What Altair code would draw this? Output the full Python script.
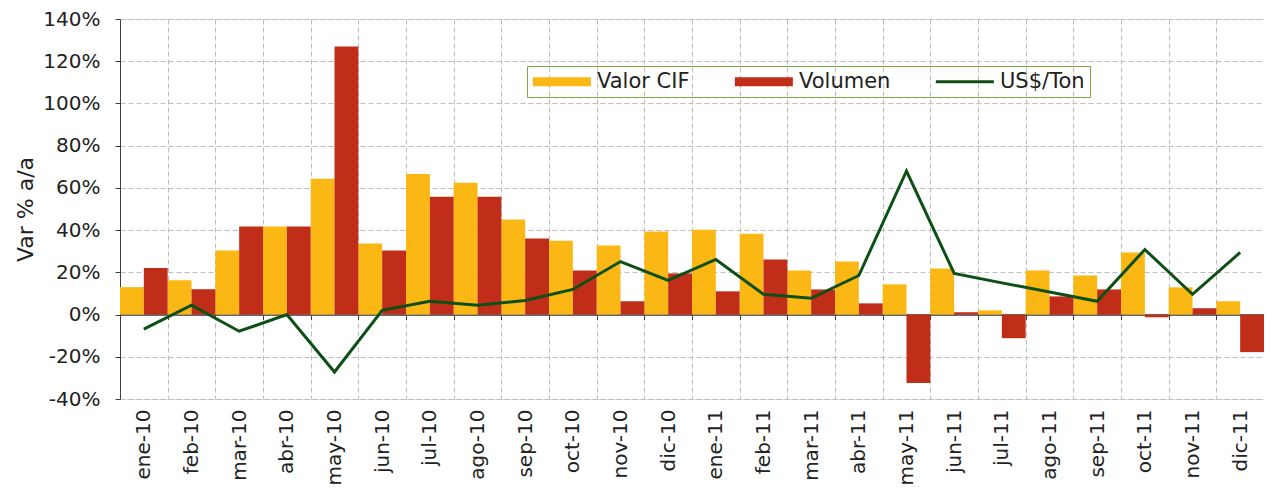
import altair as alt
import pandas as pd

months = ["ene-10", "feb-10", "mar-10", "abr-10", "may-10", "jun-10", "jul-10", "ago-10",
          "sep-10", "oct-10", "nov-10", "dic-10", "ene-11", "feb-11", "mar-11", "abr-11",
          "may-11", "jun-11", "jul-11", "ago-11", "sep-11", "oct-11", "nov-11", "dic-11"]
valor_cif = [13, 16.2, 30.3, 41.7, 64.3, 33.6, 66.6, 62.4, 45, 35, 32.7, 39.3,
             40.2, 38.3, 20.9, 25.1, 14.3, 21.8, 2, 20.9, 18.5, 29.4, 12.9, 6.3]
volumen = [22, 12, 41.7, 41.7, 127, 30.3, 55.8, 55.8, 36, 20.9, 6.3, 19.5,
           11, 26.1, 11.9, 5.3, -32.4, 1.1, -11.2, 8.6, 11.9, -1.3, 3, -17.8]
us_ton = [-6.9, 4.4, -7.9, 0, -27.2, 2, 6.3, 4.4, 6.7, 11.9, 25.1, 16.2,
          26.1, 9.6, 7.7, 18.5, 68, 19.5, 15, 10.7, 6.3, 30.8, 9.6, 29.4]
series_names = ["Valor CIF", "Volumen", "US$/Ton"]
series_colors = ["#FBB815", "#C02E1A", "#0D4F14"]
y_ticks = [-40, -20, 0, 20, 40, 60, 80, 100, 120, 140]

bars_df = pd.DataFrame(
    [{"month": m, "series": "Valor CIF", "value": v} for m, v in zip(months, valor_cif)]
    + [{"month": m, "series": "Volumen", "value": v} for m, v in zip(months, volumen)]
)
line_df = pd.DataFrame({"month": months, "series": "US$/Ton", "value": us_ton})
all_df = pd.concat([bars_df, line_df], ignore_index=True)

FONT = "DejaVu Sans"
W, H = 1144, 380
ymin, ymax = y_ticks[0], y_ticks[-1]
zero_off = H * (0 - ymin) / (ymax - ymin)
GRID = "#BDBDBD"
AX = "#404040"

x_scale = alt.Scale(domain=months, paddingInner=0, paddingOuter=0)
y_scale = alt.Scale(domain=[ymin, ymax], nice=False)
y_axis = alt.Axis(values=y_ticks, labelExpr="datum.value + '%'", grid=True,
                  gridDash=[5, 3], gridColor=GRID, domainColor=AX, tickColor=AX,
                  tickSize=5, labelFontSize=20, labelFont=FONT, labelColor="#222",
                  labelPadding=15, title="Var % a/a", titleFont=FONT, titleFontSize=22,
                  titleFontWeight="normal", titleColor="#222", titlePadding=5)

rect_path = "M-1,-0.465H5V0.465H-1Z"
thin_path = "M-1,-0.155H5V0.155H-1Z"
legend = alt.Legend(
    orient="none", legendX=407, legendY=47, direction="horizontal", title=None,
    labelFont=FONT, labelFontSize=21, labelColor="#222", strokeColor="#78AB46",
    padding=5, columnPadding=44, symbolSize=374, labelOffset=44, symbolOpacity=1,
    symbolStrokeWidth=0,
)
color_scale = alt.Scale(domain=series_names, range=series_colors)

legend_pts = alt.Chart(all_df).mark_point(filled=True, opacity=0).encode(
    x=alt.X("month:N", scale=x_scale, sort=months, axis=None),
    y=alt.Y("value:Q", scale=y_scale, axis=y_axis),
    color=alt.Color("series:N", scale=color_scale, legend=legend),
    shape=alt.Shape("series:N", scale=alt.Scale(domain=series_names,
                                                range=[rect_path, rect_path, thin_path]),
                    legend=legend),
)

bars = alt.Chart(bars_df).mark_bar().encode(
    x=alt.X("month:N", scale=x_scale, sort=months,
            axis=alt.Axis(title=None, labelAngle=-90, labelFontSize=20, labelFont=FONT,
                          labelColor="#222", labelPadding=10, ticks=False, domain=False,
                          grid=True, gridDash=[5, 3], gridColor=GRID, tickBand="extent",
                          orient="bottom")),
    xOffset=alt.XOffset("series:N", sort=["Valor CIF", "Volumen"],
                        scale=alt.Scale(domain=["Valor CIF", "Volumen"], paddingInner=0,
                                        paddingOuter=0)),
    y=alt.Y("value:Q", scale=y_scale, axis=y_axis),
    color=alt.Color("series:N", scale=color_scale, legend=legend),
)

line = alt.Chart(line_df).mark_line(strokeWidth=3).encode(
    x=alt.X("month:N", scale=x_scale, sort=months,
            axis=alt.Axis(title=None, labels=False, grid=False, ticks=True, tickSize=5,
                          tickBand="extent", domain=True, domainColor=AX, domainWidth=1.5,
                          tickColor=AX, offset=-zero_off, orient="bottom")),
    y=alt.Y("value:Q", scale=y_scale, axis=y_axis),
    color=alt.Color("series:N", scale=color_scale, legend=legend),
)

chart = alt.layer(legend_pts, bars, line).resolve_axis(x="independent").properties(
    width=W, height=H,
    padding={"left": 112, "top": 11, "right": 0, "bottom": 87},
    autosize=alt.AutoSizeParams(type="none"),
).configure_view(stroke=None).configure(background="white")

chart.save("out.html", embed_options={"renderer": "svg", "actions": False})
